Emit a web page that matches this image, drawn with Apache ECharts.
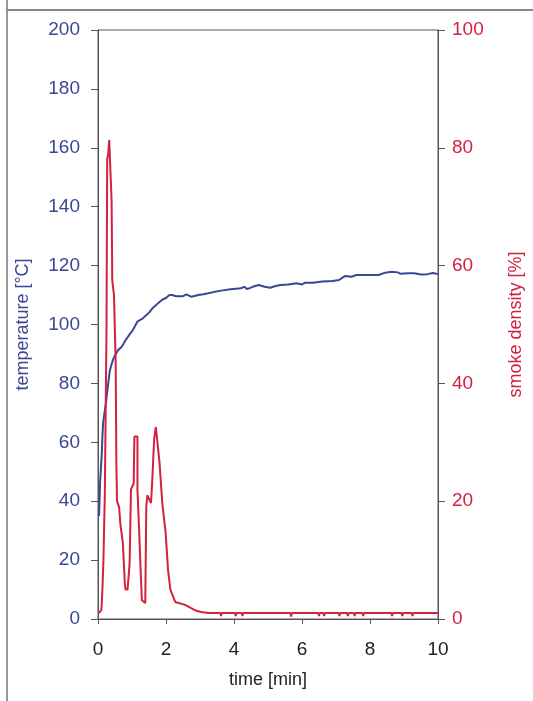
<!DOCTYPE html>
<html>
<head>
<meta charset="utf-8">
<script src="https://cdn.jsdelivr.net/npm/echarts@6/dist/echarts.min.js"></script>
<style>
  html, body { margin: 0; padding: 0; background: #fff; }
  #chart { width: 533px; height: 701px; }
</style>
</head>
<body>
<div id="chart"></div>
<script>
// temperature curve (time in min, temperature in °C)
var tempTime = [0.03, 0.05, 0.06, 0.09, 0.11, 0.13, 0.15, 0.19, 0.23, 0.27, 0.3, 0.35, 0.4, 0.44, 0.5, 0.59, 0.66, 0.73, 0.8, 0.88,
    0.95, 1.02, 1.09, 1.16, 1.23, 1.31, 1.4, 1.5, 1.6, 1.7, 1.79, 1.9, 2.0, 2.1, 2.18, 2.3, 2.5, 2.6, 2.75, 2.95,
    3.1, 3.24, 3.4, 3.62, 3.9, 4.2, 4.3, 4.39, 4.55, 4.73, 4.9, 5.07, 5.2, 5.36, 5.6, 5.84, 6.0, 6.1, 6.32, 6.6,
    6.9, 7.09, 7.2, 7.28, 7.45, 7.6, 7.77, 8.0, 8.25, 8.45, 8.63, 8.82, 8.9, 9.11, 9.3, 9.5, 9.69, 9.85, 10];
var tempValue = [35, 42, 46, 52, 56, 62, 66.5, 70, 73, 77, 80, 84.5, 86.5, 88, 89.5, 91.3, 92, 93, 94.5, 95.8,
    97, 98, 99.5, 101, 101.5, 102, 103, 104, 105.5, 106.5, 107.5, 108.5, 109, 110, 110, 109.6, 109.6, 110.2, 109.4, 110,
    110.3, 110.6, 111, 111.5, 112, 112.3, 112.8, 112, 112.8, 113.4, 112.8, 112.5, 113, 113.4, 113.6, 114, 113.6, 114.2, 114.2, 114.6,
    114.8, 115.1, 116, 116.5, 116.2, 116.8, 116.8, 116.8, 116.8, 117.6, 117.9, 117.7, 117.2, 117.4, 117.4, 117, 117.1, 117.5, 117.1];

// smoke density curve (time in min, density in %)
var smokeTime = [0.02, 0.1, 0.13, 0.16, 0.2, 0.25, 0.27, 0.3, 0.33, 0.36, 0.4, 0.42, 0.47, 0.52, 0.54, 0.56, 0.62, 0.66, 0.73, 0.79,
    0.81, 0.87, 0.93, 0.97, 1.05, 1.07, 1.16, 1.16, 1.21, 1.25, 1.29, 1.39, 1.42, 1.45, 1.5, 1.56, 1.6, 1.65, 1.7, 1.74,
    1.81, 1.89, 1.99, 2.06, 2.13, 2.27, 2.56, 2.85, 3.03, 3.24,
    3.6, 3.62, 3.64, 4.03, 4.05, 4.07, 4.23, 4.25, 4.27, 5.66, 5.68, 5.7,
    6.48, 6.5, 6.52, 6.63, 6.65, 6.67, 7.08, 7.1, 7.12, 7.33, 7.35, 7.37, 7.53, 7.55, 7.57, 7.78, 7.8, 7.82,
    8.63, 8.65, 8.67, 8.93, 8.95, 8.97, 9.23, 9.25, 9.27, 10];
var smokeValue = [1, 1.5, 5, 10, 21, 49, 78, 79, 81.3, 81.3, 71, 57.5, 55, 43.5, 26.5, 20, 19, 16, 13, 6,
    5, 5, 9.5, 22, 23, 31, 31, 22, 15, 8.8, 3.2, 2.7, 19, 21, 20.7, 19.7, 24, 30.4, 32.6, 30.4,
    26.5, 19.7, 14.6, 8.3, 5, 2.9, 2.4, 1.5, 1.2, 1.0,
    1.0, 0.5, 1.0, 1.0, 0.5, 1.0, 1.0, 0.5, 1.0, 1.0, 0.4, 1.0,
    1.0, 0.5, 1.0, 1.0, 0.5, 1.0, 1.0, 0.5, 1.0, 1.0, 0.5, 1.0, 1.0, 0.5, 1.0, 1.0, 0.5, 1.0,
    1.0, 0.5, 1.0, 1.0, 0.5, 1.0, 1.0, 0.5, 1.0, 1.0];

var xTicks = [0, 2, 4, 6, 8, 10];
var tempTicks = [0, 20, 40, 60, 80, 100, 120, 140, 160, 180, 200];
var smokeTicks = [0, 20, 40, 60, 80, 100];

var BLUE = '#3a4795';
var RED = '#d3213f';
var FONT = '"Liberation Sans", Arial, sans-serif';

function pairs(xs, ys) {
    return xs.map(function (x, i) { return [x, ys[i]]; });
}

var chart = echarts.init(document.getElementById('chart'), null, { renderer: 'canvas' });

chart.setOption({
    animation: false,
    backgroundColor: '#fff',
    textStyle: { fontFamily: FONT },
    grid: {
        left: 98, right: 88, top: 30, bottom: 82,
        show: true, borderColor: '#555', borderWidth: 1, containLabel: false
    },
    graphic: [
        { type: 'line', shape: { x1: 7, y1: 0, x2: 7, y2: 701 }, style: { stroke: '#999', lineWidth: 2 }, silent: true, z: 0 },
        { type: 'line', shape: { x1: 6, y1: 10, x2: 533, y2: 10 }, style: { stroke: '#888', lineWidth: 2 }, silent: true, z: 0 }
    ],
    xAxis: {
        type: 'value',
        min: xTicks[0], max: xTicks[xTicks.length - 1], interval: 2,
        name: 'time [min]',
        nameLocation: 'middle',
        nameGap: 52,
        nameTextStyle: { color: '#222', fontSize: 18, fontFamily: FONT },
        axisLine: { lineStyle: { color: '#555', width: 1 } },
        axisTick: { show: true, inside: false, length: 5, lineStyle: { color: '#555' } },
        axisLabel: { color: '#222', fontSize: 19, margin: 21, fontFamily: FONT },
        splitLine: { show: false }
    },
    yAxis: [
        {
            type: 'value',
            position: 'left',
            min: tempTicks[0], max: tempTicks[tempTicks.length - 1], interval: 20,
            name: 'temperature [°C]',
            nameLocation: 'middle',
            nameGap: 66,
            nameRotate: 90,
            nameTextStyle: { color: BLUE, fontSize: 18, fontFamily: FONT },
            axisLine: { show: true, lineStyle: { color: '#555', width: 1 } },
            axisTick: { show: true, inside: false, length: 7, lineStyle: { color: '#555' } },
            axisLabel: { color: BLUE, fontSize: 19, margin: 18, fontFamily: FONT },
            splitLine: { show: false }
        },
        {
            type: 'value',
            position: 'right',
            min: smokeTicks[0], max: smokeTicks[smokeTicks.length - 1], interval: 20,
            name: 'smoke density [%]',
            nameLocation: 'middle',
            nameGap: 69,
            nameRotate: 90,
            nameTextStyle: { color: RED, fontSize: 18, fontFamily: FONT },
            axisLine: { show: true, lineStyle: { color: '#555', width: 1 } },
            axisTick: { show: true, inside: false, length: 7, lineStyle: { color: '#555' } },
            axisLabel: { color: RED, fontSize: 19, margin: 14, fontFamily: FONT },
            splitLine: { show: false }
        }
    ],
    series: [
        {
            name: 'temperature',
            type: 'line',
            yAxisIndex: 0,
            data: pairs(tempTime, tempValue),
            showSymbol: false,
            lineStyle: { color: BLUE, width: 2 },
            itemStyle: { color: BLUE },
            z: 2
        },
        {
            name: 'smoke density',
            type: 'line',
            yAxisIndex: 1,
            data: pairs(smokeTime, smokeValue),
            showSymbol: false,
            lineStyle: { color: RED, width: 2 },
            itemStyle: { color: RED },
            z: 3
        }
    ]
});
</script>
</body>
</html>
